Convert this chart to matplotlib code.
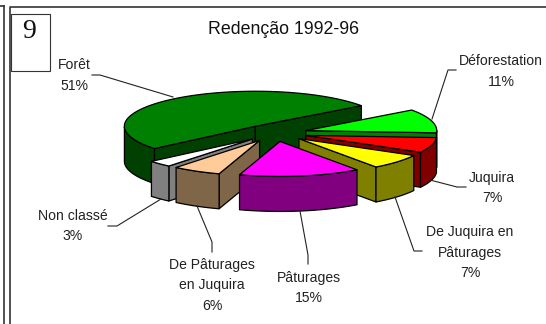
import numpy as np
from matplotlib import pyplot as plt
from matplotlib.patches import Polygon, Rectangle

plt.rcParams['font.family'] = ['Liberation Sans', 'DejaVu Sans']

title = "Redenção 1992-96"
categories = ["Déforestation", "Juquira", "De Juquira en\nPâturages", "Pâturages",
              "De Pâturages\nen Juquira", "Non classé", "Forêt"]
percents = [11, 7, 7, 15, 6, 3, 51]

top_colors = ["#00FF00", "#FF0000", "#FFFF00", "#FF00FF", "#FFCC99", "#FFFFFF", "#008000"]
side_colors = ["#008000", "#800000", "#808000", "#800080", "#806648", "#808080", "#004000"]

# pie geometry in pixels
cx, cy = 275, 133
rx, ry = 131, 35
depth = 35
explode = 32
start_angle = 36
draw_order = [6, 0, 1, 2, 5, 4, 3]

# label x, y of the first line, then leader line points
label_pos = [(501, 61), (492, 178), (470, 232), (309, 278), (212, 265), (73, 216), (74, 65)]
leaders = [
    [(456, 70), (448, 70), (432, 119)],
    [(466, 187), (457, 187), (430, 180)],
    [(422, 251), (414, 251), (395, 197)],
    [(308, 264), (308, 255), (300, 211)],
    [(212, 252), (212, 242), (197, 206)],
    [(108, 226), (117, 226), (161, 199)],
    [(92, 75), (100, 75), (173, 97)],
]


def rim_point(ax0, ay0, deg):
    t = np.radians(deg)
    return ax0 + rx * np.cos(t), ay0 - ry * np.sin(t)


def draw_slice(ax, pct, t0, top, side):
    t1 = t0 - pct * 3.6
    mid = np.radians((t0 + t1) / 2)
    ax0 = cx + explode * np.cos(mid)
    ay0 = cy - explode * ry / rx * np.sin(mid)
    style = dict(edgecolor="black", linewidth=0.9, joinstyle="round")

    # cut faces, only the ones turned to the viewer
    for t, normal in ((t0, t0 + 90), (t1, t1 - 90)):
        if np.sin(np.radians(normal)) < 0:
            px, py = rim_point(ax0, ay0, t)
            ax.add_patch(Polygon([(ax0, ay0), (px, py), (px, py + depth), (ax0, ay0 + depth)],
                                 facecolor=side, **style))

    # outer wall, front part only
    angles = np.linspace(t0, t1, 200)
    front = angles[np.sin(np.radians(angles)) <= 0]
    if len(front) > 1:
        xs, ys = rim_point(ax0, ay0, front)
        pts = list(zip(xs, ys)) + list(zip(xs[::-1], ys[::-1] + depth))
        ax.add_patch(Polygon(pts, facecolor=side, **style))

    xs, ys = rim_point(ax0, ay0, angles)
    ax.add_patch(Polygon([(ax0, ay0)] + list(zip(xs, ys)), facecolor=top, **style))


fig = plt.figure(figsize=(5.46, 3.24), dpi=100)
ax = fig.add_axes([0, 0, 1, 1])
ax.set_xlim(0, 546)
ax.set_ylim(324, 0)
ax.axis("off")

# page frame
ax.plot([3.5, 3.5], [6, 324], color="#333333", lw=1.2)
ax.plot([0, 3.5], [6, 6], color="#333333", lw=1.2)
ax.plot([9.5, 9.5, 546], [324, 6.5, 6.5], color="#333333", lw=1.2)

for leader in leaders:
    ax.plot(*zip(*leader), color="#222222", lw=0.8)

starts = start_angle - np.cumsum([0] + percents[:-1]) * 3.6
for i in draw_order:
    draw_slice(ax, percents[i], starts[i], top_colors[i], side_colors[i])

ax.add_patch(Rectangle((10.5, 13.5), 39, 57.5, facecolor="white", edgecolor="#333333", lw=0.8))
ax.text(29, 31, "9", family="Liberation Serif", fontsize=20, ha="center", va="center", color="#111111")

ax.text(284, 29, title, fontsize=12.8, ha="center", va="center", color="#111111")

for name, pct, (x, y) in zip(categories, percents, label_pos):
    lines = name.split("\n") + [f"{pct}%"]
    for k, line in enumerate(lines):
        ax.text(x, y + k * 20.5, line, fontsize=10.1, ha="center", va="center", color="#222222")

fig.savefig("out.png", dpi=100)
